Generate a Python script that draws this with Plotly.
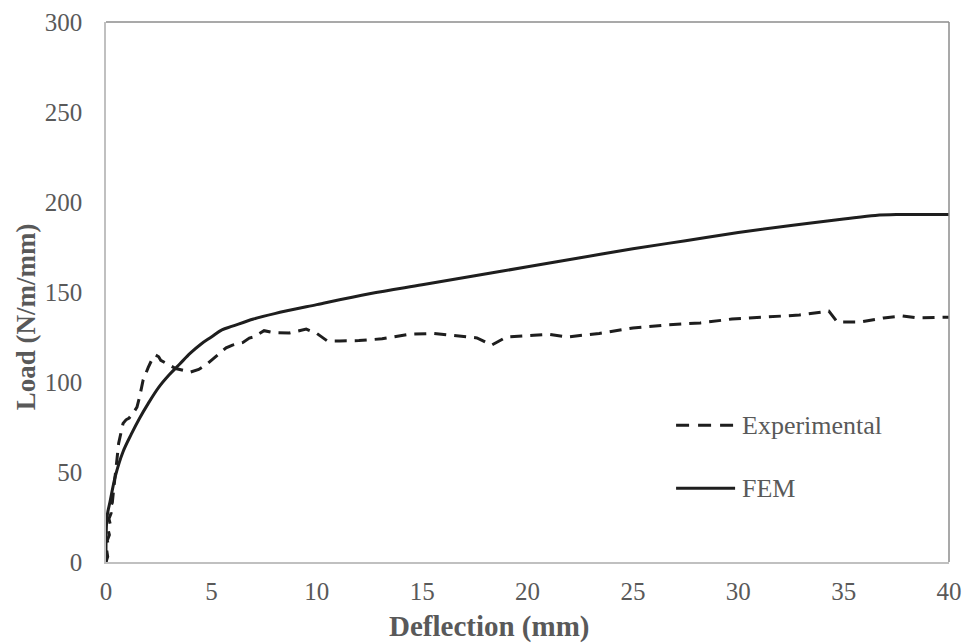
import plotly.graph_objects as go

# Measured load-deflection response
exp_x = [0, 0.08, 0.04, 0.12, 0.06, 0.16, 0.1, 0.2, 0.14, 0.24, 0.2, 0.3, 0.36, 0.43,
         0.52, 0.6, 0.7, 0.81, 0.95, 1.1, 1.3, 1.47, 1.6, 1.76, 2.0, 2.2, 2.35, 2.5,
         2.6, 3.3, 4.0, 4.4, 4.8, 5.2, 5.7, 6.0, 6.5, 6.8, 7.0, 7.5, 7.9, 8.7, 9.5,
         10.0, 10.5, 11.1, 12.0, 13.1, 14.4, 15.5, 16.3, 16.9, 17.6, 18.3, 19.0,
         20.3, 21.0, 21.9, 23.4, 25.0, 26.6, 28.2, 29.7, 31.3, 32.9, 34.3, 34.7,
         35.8, 36.9, 37.8, 38.5, 40.0]
exp_y = [0, 3, 6, 9, 12, 15, 18, 21, 24, 27, 30, 33, 40, 49,
         57, 66, 72, 77, 79, 80, 83, 86, 92, 101, 108, 113, 115, 114,
         112, 107.5, 105.5, 107, 110, 114, 119, 120.5, 122, 124.4, 125, 128.5, 127.5, 127.2, 129.4,
         127, 122.8, 122.8, 123, 124, 126.5, 127, 126, 125, 124.5, 120.5, 125,
         126, 126.5, 125, 127, 130, 131.7, 132.8, 135, 136.1, 137.2, 139.4, 133.3,
         133.3, 135.6, 136.7, 135.6, 136]

# Finite element prediction
fem_x = [0, 0.05, 0.2, 0.45, 0.8, 1.2, 1.6, 2.0, 2.5, 3.0, 3.5, 4.0, 4.5, 5.0, 5.5,
         6.0, 7.0, 8.0, 10, 12.5, 15, 17.5, 20, 22.5, 25, 27.5, 30, 32.5, 35, 36.5,
         37.5, 40]
fem_y = [0, 25, 34, 48, 61, 71, 80, 88, 97, 104, 110, 116, 121, 125, 129,
         131, 135, 138, 143, 149, 154, 159, 164, 169, 174, 178.5, 183, 187, 190.5, 192.5,
         193, 193]

x_ticks = [0, 5, 10, 15, 20, 25, 30, 35, 40]
y_ticks = [0, 50, 100, 150, 200, 250, 300]
x_title = "Deflection (mm)"
y_title = "Load (N/m/mm)"

FONT = "Liberation Serif, Times New Roman, serif"
GREY = "#595959"
INK = "#1e1e1e"

fig = go.Figure()
fig.add_trace(go.Scatter(x=exp_x, y=exp_y, mode="lines", name="Experimental",
                         line=dict(color=INK, width=3, dash="12px,8px")))
fig.add_trace(go.Scatter(x=fem_x, y=fem_y, mode="lines", name="FEM",
                         line=dict(color=INK, width=3, shape="spline", smoothing=1.0)))

# Hand-placed legend
leg_x0, leg_x1, leg_tx = 27.05, 29.85, 30.1
for yy, name, dash in [(76, "Experimental", "13px,9px"), (41, "FEM", "solid")]:
    fig.add_shape(type="line", xref="x", yref="y", x0=leg_x0, x1=leg_x1, y0=yy, y1=yy,
                  line=dict(color=INK, width=3, dash=dash))
    fig.add_annotation(x=leg_tx, y=yy, xref="x", yref="y", text=name, showarrow=False,
                       xanchor="left", yanchor="middle",
                       font=dict(family=FONT, size=26, color=GREY))

# Axis titles
fig.add_annotation(x=0.4555, y=-0.12, xref="paper", yref="paper",
                   text=f"<b>{x_title}</b>", showarrow=False,
                   xanchor="center", yanchor="middle",
                   font=dict(family=FONT, size=29, color=GREY))
fig.add_annotation(x=-0.0945, y=0.4537, xref="paper", yref="paper",
                   text=f"<b>{y_title}</b>", showarrow=False, textangle=-90,
                   xanchor="center", yanchor="middle",
                   font=dict(family=FONT, size=27, color=GREY))

# Frame: top and right edges
fig.add_shape(type="line", xref="paper", yref="paper", x0=0, x1=1, y0=1, y1=1,
              line=dict(color="#8c8c8c", width=1.5))
fig.add_shape(type="line", xref="paper", yref="paper", x0=1, x1=1, y0=0, y1=1,
              line=dict(color="#8c8c8c", width=1.5))

fig.update_layout(
    width=965, height=643,
    margin=dict(l=106, r=16, t=22, b=81),
    paper_bgcolor="white", plot_bgcolor="white",
    showlegend=False,
    font=dict(family=FONT, color=GREY),
)
fig.update_xaxes(range=[0, 40], tickvals=x_ticks, showgrid=False, zeroline=False,
                 automargin=False,
                 showline=True, linecolor="#c0c0c0", linewidth=1.5, ticks="",
                 ticklabelstandoff=6,
                 tickfont=dict(family=FONT, size=25, color=GREY))
fig.update_yaxes(range=[0, 300], tickvals=y_ticks, showgrid=False, zeroline=False,
                 automargin=False,
                 showline=True, linecolor="#c0c0c0", linewidth=1.5, ticks="",
                 ticklabelstandoff=17,
                 tickfont=dict(family=FONT, size=25, color=GREY))

fig.write_html("out.html")
